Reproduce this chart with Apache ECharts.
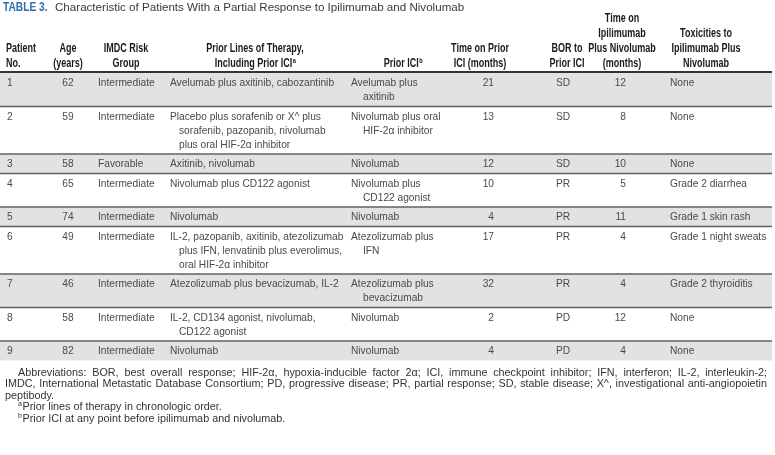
<!DOCTYPE html>
<html><head><meta charset="utf-8">
<script src="https://cdn.jsdelivr.net/npm/echarts@6/dist/echarts.min.js"></script>
<style>html,body{margin:0;padding:0;background:#fff}#c{width:775px;height:455px}</style>
</head><body><div id="c"></div>
<script>
// ---------- DATA ----------
const titleLabel = 'TABLE 3.';
const titleText = 'Characteristic of Patients With a Partial Response to Ipilimumab and Nivolumab';
const headers = [
  [['Patient'], ['No.']],
  [['Age'], ['(years)']],
  [['IMDC Risk'], ['Group']],
  [['Prior Lines of Therapy,'], ['Including Prior ICI', 'a']],
  [['Prior ICI', 'b']],
  [['Time on Prior'], ['ICI (months)']],
  [['BOR to'], ['Prior ICI']],
  [['Time on'], ['Ipilimumab'], ['Plus Nivolumab'], ['(months)']],
  [['Toxicities to'], ['Ipilimumab Plus'], ['Nivolumab']]
];
const patientNo = ['1', '2', '3', '4', '5', '6', '7', '8', '9'];
const ages = [62, 59, 58, 65, 74, 49, 46, 58, 82];
const riskGroup = ['Intermediate', 'Intermediate', 'Favorable', 'Intermediate', 'Intermediate', 'Intermediate', 'Intermediate', 'Intermediate', 'Intermediate'];
const priorLines = [
  ['Avelumab plus axitinib, cabozantinib'],
  ['Placebo plus sorafenib or X^ plus', 'sorafenib, pazopanib, nivolumab', 'plus oral HIF-2\u03b1 inhibitor'],
  ['Axitinib, nivolumab'],
  ['Nivolumab plus CD122 agonist'],
  ['Nivolumab'],
  ['IL-2, pazopanib, axitinib, atezolizumab', 'plus IFN, lenvatinib plus everolimus,', 'oral HIF-2\u03b1 inhibitor'],
  ['Atezolizumab plus bevacizumab, IL-2'],
  ['IL-2, CD134 agonist, nivolumab,', 'CD122 agonist'],
  ['Nivolumab']
];
const priorICI = [
  ['Avelumab plus', 'axitinib'],
  ['Nivolumab plus oral', 'HIF-2\u03b1 inhibitor'],
  ['Nivolumab'],
  ['Nivolumab plus', 'CD122 agonist'],
  ['Nivolumab'],
  ['Atezolizumab plus', 'IFN'],
  ['Atezolizumab plus', 'bevacizumab'],
  ['Nivolumab'],
  ['Nivolumab']
];
const timeOnPriorICI = [21, 13, 12, 10, 4, 17, 32, 2, 4];
const borPriorICI = ['SD', 'SD', 'SD', 'PR', 'PR', 'PR', 'PR', 'PD', 'PD'];
const timeOnIpiNivo = [12, 8, 10, 5, 11, 4, 4, 12, 4];
const toxicities = ['None', 'None', 'None', 'Grade 2 diarrhea', 'Grade 1 skin rash', 'Grade 1 night sweats', 'Grade 2 thyroiditis', 'None', 'None'];
const footnoteAbbrev = [
  'Abbreviations: BOR, best overall response; HIF-2\u03b1, hypoxia-inducible factor 2\u03b1; ICI, immune checkpoint inhibitor; IFN, interferon; IL-2, interleukin-2;',
  'IMDC, International Metastatic Database Consortium; PD, progressive disease; PR, partial response; SD, stable disease; X^, investigational anti-angiopoietin',
  'peptibody.'
];
const footnoteMarks = [['a', 'Prior lines of therapy in chronologic order.'], ['b', 'Prior ICI at any point before ipilimumab and nivolumab.']];

// ---------- LAYOUT ----------
const W = 775, H = 455;
const TABLE_RIGHT = 772;
const HEAD_LINE_Y = 72;
const LINE_STEP = 14, ROW_PAD = 5.5, FIRST_LINE = 10.5;
const BODY_FONT_FAMILY = '"Liberation Sans", Arial, sans-serif';
const BODY_FONT = '10.2px ' + BODY_FONT_FAMILY;
const HEAD_FONT = 'bold 12px ' + BODY_FONT_FAMILY;
const SUP_FONT = 'bold 7.5px ' + BODY_FONT_FAMILY;
const HEAD_SX = 0.75;
const BODY_COLOR = '#4a4a4a';
const cols = [
  {x: 7, align: 'left'},
  {x: 68, align: 'center'},
  {x: 98, align: 'left'},
  {x: 170, align: 'left', indent: 9},
  {x: 351, align: 'left', indent: 12},
  {x: 494, align: 'right'},
  {x: 556, align: 'left'},
  {x: 626, align: 'right'},
  {x: 670, align: 'left'}
];
const headerCols = [{x: 6, align: 'left'}, {x: 68}, {x: 126}, {x: 255}, {x: 403}, {x: 480}, {x: 567}, {x: 622}, {x: 706}];

const mctx = document.createElement('canvas').getContext('2d');
function measure(t, font) { mctx.font = font; return mctx.measureText(t).width; }

const rowLines = patientNo.map((_, i) => Math.max(priorLines[i].length, priorICI[i].length, 1));
const rowTops = [];
let yy = HEAD_LINE_Y + 1;
rowLines.forEach(n => { rowTops.push(yy); yy += ROW_PAD + LINE_STEP * n; });
const rowHeights = rowLines.map(n => ROW_PAD + LINE_STEP * n);

function txt(t, x, y, font, fill, align, sx) {
  return {type: 'text', x: x, y: y, scaleX: sx || 1,
    style: {text: t, x: 0, y: 0, font: font, fill: fill, align: align || 'left', verticalAlign: 'middle', textAlign: align || 'left', textVerticalAlign: 'middle'}};
}

function renderRow(params, api) {
  const i = params.dataIndex;
  const top = rowTops[i], h = rowHeights[i];
  const p0 = api.coord([0, top]);
  const p1 = api.coord([TABLE_RIGHT, top + h]);
  const children = [];
  if (i % 2 === 0) {
    children.push({type: 'rect', shape: {x: p0[0], y: p0[1], width: p1[0] - p0[0], height: p1[1] - p0[1]}, style: {fill: '#e2e2e2'}});
  }
  if (i > 0) {
    children.push({type: 'line', shape: {x1: p0[0], y1: p0[1], x2: p1[0], y2: p0[1]}, style: {stroke: '#606060', lineWidth: 1.5}});
  }
  const cells = [[patientNo[i]], [String(ages[i])], [riskGroup[i]], priorLines[i], priorICI[i],
    [String(timeOnPriorICI[i])], [borPriorICI[i]], [String(timeOnIpiNivo[i])], [toxicities[i]]];
  cells.forEach((lines, c) => {
    const col = cols[c];
    lines.forEach((t, k) => {
      const x = col.x + (k > 0 ? (col.indent || 0) : 0);
      const y = top + FIRST_LINE + LINE_STEP * k;
      const pt = api.coord([x, y]);
      children.push(txt(t, pt[0], pt[1], BODY_FONT, BODY_COLOR, col.align));
    });
  });
  return {type: 'group', children: children};
}

// ---------- GRAPHICS (title, header, footnotes) ----------
const graphics = [];
graphics.push(txt(titleLabel, 3, 8, 'bold 12px ' + BODY_FONT_FAMILY, '#2f6db5', 'left', 0.85));
graphics.push(txt(titleText, 55, 8, '11.6px ' + BODY_FONT_FAMILY, '#3a3a3a', 'left'));

headers.forEach((lines, c) => {
  const hc = headerCols[c];
  const n = lines.length;
  lines.forEach((parts, k) => {
    const y = 63.5 - 15 * (n - 1 - k);
    const main = parts[0], sup = parts[1] || '';
    const wm = measure(main, HEAD_FONT) * HEAD_SX, ws = sup ? measure(sup, SUP_FONT) * HEAD_SX : 0;
    const x0 = hc.align === 'left' ? hc.x : hc.x - (wm + ws) / 2;
    graphics.push(txt(main, x0, y, HEAD_FONT, '#1a1a1a', 'left', HEAD_SX));
    if (sup) graphics.push(txt(sup, x0 + wm + 0.5, y - 3, SUP_FONT, '#1a1a1a', 'left', HEAD_SX));
  });
});
graphics.push({type: 'line', shape: {x1: 0, y1: HEAD_LINE_Y, x2: TABLE_RIGHT, y2: HEAD_LINE_Y}, style: {stroke: '#333', lineWidth: 2}});

const FOOT_FONT = '10.8px ' + BODY_FONT_FAMILY;
const FOOT_COLOR = '#333';
const footY0 = 373, footStep = 11.5, FOOT_RIGHT = 767;
function justify(line, x0, x1, y) {
  const words = line.split(' ');
  const ws = words.map(w => measure(w, FOOT_FONT));
  const total = ws.reduce((a, b) => a + b, 0);
  const gap = (x1 - x0 - total) / (words.length - 1);
  let x = x0;
  words.forEach((w, j) => { graphics.push(txt(w, x, y, FOOT_FONT, FOOT_COLOR, 'left')); x += ws[j] + gap; });
}
justify(footnoteAbbrev[0], 18, FOOT_RIGHT, footY0);
justify(footnoteAbbrev[1], 5, FOOT_RIGHT, footY0 + footStep);
graphics.push(txt(footnoteAbbrev[2], 5, footY0 + 2 * footStep, FOOT_FONT, FOOT_COLOR, 'left'));
footnoteMarks.forEach((m, k) => {
  const y = footY0 + (3 + k) * footStep;
  graphics.push(txt(m[0], 18, y - 3, '7px ' + BODY_FONT_FAMILY, FOOT_COLOR, 'left'));
  graphics.push(txt(m[1], 22.5, y, FOOT_FONT, FOOT_COLOR, 'left'));
});

const chart = echarts.init(document.getElementById('c'), null, {renderer: 'canvas'});
chart.setOption({
  animation: false,
  grid: {left: 0, right: 0, top: 0, bottom: 0},
  xAxis: {type: 'value', min: 0, max: W, show: false},
  yAxis: {type: 'value', min: 0, max: H, inverse: true, show: false},
  series: [{
    type: 'custom',
    clip: false,
    silent: true,
    renderItem: renderRow,
    data: patientNo.map((p, i) => [0, rowTops[i]])
  }],
  graphic: graphics
});
</script>
</body></html>
